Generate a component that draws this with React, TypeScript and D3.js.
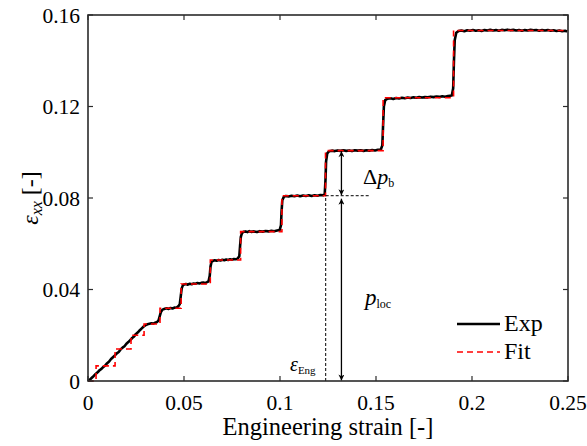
import React from "react";
import * as d3 from "d3";

const xTicks = [0, 0.05, 0.1, 0.15, 0.2, 0.25];
const xTickLabels = ["0", "0.05", "0.1", "0.15", "0.2", "0.25"];
const yTicks = [0, 0.04, 0.08, 0.12, 0.16];
const yTickLabels = ["0", "0.04", "0.08", "0.12", "0.16"];

// Fit: step function (strain at step start, value)
const fitX = [0, 0.0042, 0.0141, 0.0224, 0.0292, 0.0375, 0.0485, 0.0637, 0.0795, 0.101, 0.1237, 0.1537, 0.1904, 0.25];
const fitY = [0, 0.0066, 0.014, 0.02, 0.0249, 0.0318, 0.0424, 0.0529, 0.0653, 0.081, 0.1007, 0.1238, 0.1532, 0.1532];

// Experimental curve
const expX = [
  0, 0.001, 0.002, 0.003, 0.004, 0.005, 0.006, 0.007, 0.008, 0.009, 0.01, 0.011, 0.012, 0.013, 0.014, 0.015, 0.016, 0.017, 0.018, 0.019,
  0.02, 0.021, 0.022, 0.023, 0.024, 0.025, 0.026, 0.027, 0.028, 0.029, 0.03, 0.031, 0.032, 0.033, 0.034, 0.035, 0.036, 0.0368, 0.0374, 0.038,
  0.0388, 0.04, 0.041, 0.042, 0.043, 0.044, 0.045, 0.046, 0.047, 0.0478, 0.0483, 0.0488, 0.0494, 0.05, 0.051, 0.052, 0.053, 0.054, 0.055, 0.056,
  0.057, 0.058, 0.059, 0.06, 0.061, 0.062, 0.0628, 0.0634, 0.0638, 0.0643, 0.0652, 0.066, 0.067, 0.068, 0.069, 0.07, 0.071, 0.072, 0.073, 0.074,
  0.075, 0.076, 0.077, 0.078, 0.0788, 0.0792, 0.0796, 0.0802, 0.081, 0.082, 0.083, 0.084, 0.085, 0.0865, 0.088, 0.0895, 0.091, 0.0925, 0.094, 0.0955,
  0.097, 0.0985, 0.0998, 0.1005, 0.1008, 0.1012, 0.102, 0.103, 0.1045, 0.106, 0.1075, 0.109, 0.1105, 0.112, 0.1135, 0.115, 0.1165, 0.118, 0.1195, 0.121,
  0.1225, 0.1233, 0.1237, 0.124, 0.1246, 0.1255, 0.127, 0.1285, 0.13, 0.1315, 0.133, 0.1345, 0.136, 0.1375, 0.139, 0.1405, 0.142, 0.1435, 0.145, 0.1465,
  0.148, 0.1495, 0.151, 0.1525, 0.1533, 0.1537, 0.1541, 0.1548, 0.156, 0.1575, 0.159, 0.1605, 0.162, 0.1635, 0.165, 0.1665, 0.168, 0.1695, 0.171, 0.1725,
  0.174, 0.1755, 0.177, 0.1785, 0.18, 0.1815, 0.183, 0.1845, 0.186, 0.1875, 0.1895, 0.1902, 0.1906, 0.191, 0.1918, 0.193, 0.1945, 0.196, 0.1975, 0.199,
  0.2005, 0.202, 0.2035, 0.205, 0.2065, 0.208, 0.2095, 0.211, 0.2125, 0.214, 0.2155, 0.217, 0.2185, 0.22, 0.2215, 0.223, 0.2245, 0.226, 0.2275, 0.229,
  0.2305, 0.232, 0.2335, 0.235, 0.2365, 0.238, 0.2395, 0.241, 0.2425, 0.244, 0.2455, 0.247, 0.2485, 0.2495,
];
const expY = [
  0, 0.0006, 0.0014, 0.0022, 0.0031, 0.0038, 0.0047, 0.0053, 0.0062, 0.0068, 0.0078, 0.0085, 0.0096, 0.0104, 0.0112, 0.0121, 0.0127, 0.0138, 0.0146, 0.0152,
  0.0163, 0.017, 0.0179, 0.0188, 0.0195, 0.0206, 0.0213, 0.0222, 0.023, 0.0238, 0.0244, 0.0248, 0.025, 0.0252, 0.0251, 0.0255, 0.0258, 0.0266, 0.0285, 0.0302,
  0.0312, 0.0316, 0.0318, 0.0315, 0.0319, 0.0317, 0.0321, 0.032, 0.0326, 0.0336, 0.037, 0.0405, 0.0418, 0.0422, 0.0424, 0.0421, 0.0425, 0.0423, 0.0426, 0.0425,
  0.0428, 0.0426, 0.0429, 0.043, 0.0428, 0.0432, 0.0436, 0.046, 0.05, 0.052, 0.0526, 0.0528, 0.0526, 0.0529, 0.0527, 0.053, 0.0528, 0.0531, 0.0529, 0.0532,
  0.053, 0.0533, 0.0532, 0.0536, 0.0545, 0.059, 0.063, 0.0647, 0.0652, 0.0654, 0.0651, 0.0655, 0.0652, 0.0654, 0.0651, 0.0655, 0.0653, 0.0656, 0.0654, 0.0657,
  0.0655, 0.0658, 0.066, 0.068, 0.074, 0.079, 0.0805, 0.0809, 0.0807, 0.081, 0.0808, 0.0811, 0.0808, 0.0811, 0.0809, 0.0812, 0.0809, 0.0812, 0.081, 0.0813,
  0.0812, 0.0818, 0.088, 0.096, 0.0995, 0.1004, 0.1007, 0.1005, 0.1008, 0.1006, 0.1009, 0.1006, 0.1008, 0.1005, 0.1009, 0.1007, 0.1009, 0.1006, 0.1009, 0.1007,
  0.101, 0.1008, 0.1011, 0.1012, 0.103, 0.112, 0.12, 0.1228, 0.1234, 0.1236, 0.1233, 0.1237, 0.1235, 0.1238, 0.1236, 0.1239, 0.1237, 0.124, 0.1238, 0.1241,
  0.1239, 0.1241, 0.124, 0.1243, 0.1241, 0.1244, 0.1242, 0.1245, 0.1243, 0.1246, 0.1248, 0.128, 0.14, 0.149, 0.1522, 0.153, 0.1532, 0.1529, 0.1533, 0.1531,
  0.1534, 0.1531, 0.1533, 0.153, 0.1534, 0.1532, 0.1535, 0.1532, 0.1534, 0.1531, 0.1535, 0.1533, 0.1536, 0.1533, 0.1535, 0.1532, 0.1534, 0.1531, 0.1534, 0.1532,
  0.1535, 0.1533, 0.1534, 0.1531, 0.1534, 0.1532, 0.1534, 0.1531, 0.1533, 0.153, 0.1532, 0.1529, 0.1531, 0.1528,
];

// annotation values
const engStrain = 0.1238;
const arrowStrain = 0.132;
const locLevel = 0.081;
const bLevel = 0.1007;
const dashEnd = 0.147;

const W = 587;
const H = 446;
const L = 88, R = 568, T = 15, B = 381;
const FONT = "'Liberation Serif', Tinos, 'Times New Roman', Times, 'DejaVu Serif', serif";
const ts: React.CSSProperties = { fontFamily: FONT };

export default function App() {
  const x = d3.scaleLinear().domain([0, 0.25]).range([L, R]);
  const y = d3.scaleLinear().domain([0, 0.16]).range([B, T]);

  const expPts: [number, number][] = expX.map((v, i) => [v, expY[i]]);
  const fitPts: [number, number][] = fitX.map((v, i) => [v, fitY[i]]);

  const expLine = d3.line<[number, number]>().x((d) => x(d[0])).y((d) => y(d[1]));
  const fitLine = d3
    .line<[number, number]>()
    .x((d) => x(d[0]))
    .y((d) => y(d[1]))
    .curve(d3.curveStepAfter);

  const ax = x(arrowStrain);
  const tick = 5;

  return (
    <svg width={W} height={H} style={{ position: "absolute", left: 0, top: 0, background: "#fff", fontFamily: FONT }}>
      <defs>
        <marker id="ah" viewBox="0 0 10 10" refX="10" refY="5" markerWidth="10" markerHeight="6" orient="auto-start-reverse" markerUnits="userSpaceOnUse">
          <path d="M0,0 L10,5 L0,10 L3,5 Z" fill="#000" />
        </marker>
      </defs>

      {/* data lines */}
      <path d={expLine(expPts) || ""} fill="none" stroke="#000" strokeWidth={2.6} strokeLinejoin="round" />
      <path d={fitLine(fitPts) || ""} fill="none" stroke="#ff0000" strokeWidth={1.6} strokeDasharray="6,4" />

      {/* annotations */}
      <line x1={x(engStrain)} x2={x(engStrain)} y1={y(0)} y2={y(locLevel)} stroke="#000" strokeWidth={1} strokeDasharray="3,2" />
      <line x1={x(engStrain)} x2={x(dashEnd)} y1={y(locLevel)} y2={y(locLevel)} stroke="#000" strokeWidth={1} strokeDasharray="3,2" />
      <line x1={ax} x2={ax} y1={y(bLevel) + 0.5} y2={y(locLevel) - 0.5} stroke="#000" strokeWidth={1.3} markerStart="url(#ah)" markerEnd="url(#ah)" />
      <line x1={ax} x2={ax} y1={y(locLevel) + 3} y2={y(0) - 0.5} stroke="#000" strokeWidth={1.3} markerStart="url(#ah)" markerEnd="url(#ah)" />

      <text x={363} y={184} fontSize={22} fill="#000" style={ts}>
        Δ<tspan fontStyle="italic">p</tspan>
        <tspan fontSize={12} dy={3}>b</tspan>
      </text>
      <text x={365} y={305} fontSize={23} fill="#000" style={ts}>
        <tspan fontStyle="italic">p</tspan>
        <tspan fontSize={12} dy={3}>loc</tspan>
      </text>
      <text x={290} y={371} fontSize={20} fill="#000" style={ts}>
        <tspan fontStyle="italic">ε</tspan>
        <tspan fontSize={11} dy={3}>Eng</tspan>
      </text>

      {/* frame */}
      <rect x={L} y={T} width={R - L} height={B - T} fill="none" stroke="#2b2b2b" strokeWidth={1.6} />

      {/* ticks */}
      {xTicks.map((t, i) => (
        <g key={"xt" + i}>
          <line x1={x(t)} x2={x(t)} y1={B} y2={B - tick} stroke="#2b2b2b" strokeWidth={1.2} />
          <line x1={x(t)} x2={x(t)} y1={T} y2={T + tick} stroke="#2b2b2b" strokeWidth={1.2} />
          <text x={x(t)} y={410} fontSize={21.5} textAnchor="middle" fill="#000" style={ts}>
            {xTickLabels[i]}
          </text>
        </g>
      ))}
      {yTicks.map((t, i) => (
        <g key={"yt" + i}>
          <line x1={L} x2={L + tick} y1={y(t)} y2={y(t)} stroke="#2b2b2b" strokeWidth={1.2} />
          <line x1={R} x2={R - tick} y1={y(t)} y2={y(t)} stroke="#2b2b2b" strokeWidth={1.2} />
          <text x={80} y={y(t)} dy="0.35em" fontSize={21.5} textAnchor="end" fill="#000" style={ts}>
            {yTickLabels[i]}
          </text>
        </g>
      ))}

      {/* axis titles */}
      <text x={(L + R) / 2} y={435} fontSize={24.5} textAnchor="middle" fill="#000" style={ts}>
        Engineering strain [-]
      </text>
      <text transform={`translate(38,${(T + B) / 2}) rotate(-90)`} fontSize={24} textAnchor="middle" fill="#000" style={ts}>
        <tspan fontStyle="italic">ε</tspan>
        <tspan fontSize={16} fontStyle="italic" dy={4}>xx</tspan>
        <tspan dy={-4}> [-]</tspan>
      </text>

      {/* legend */}
      <line x1={457} x2={500} y1={324} y2={324} stroke="#000" strokeWidth={2.4} />
      <text x={504} y={331} fontSize={24} fill="#000" style={ts}>Exp</text>
      <line x1={457} x2={500} y1={352} y2={352} stroke="#ff0000" strokeWidth={1.6} strokeDasharray="6,4" />
      <text x={504} y={359} fontSize={24} fill="#000" style={ts}>Fit</text>
    </svg>
  );
}
